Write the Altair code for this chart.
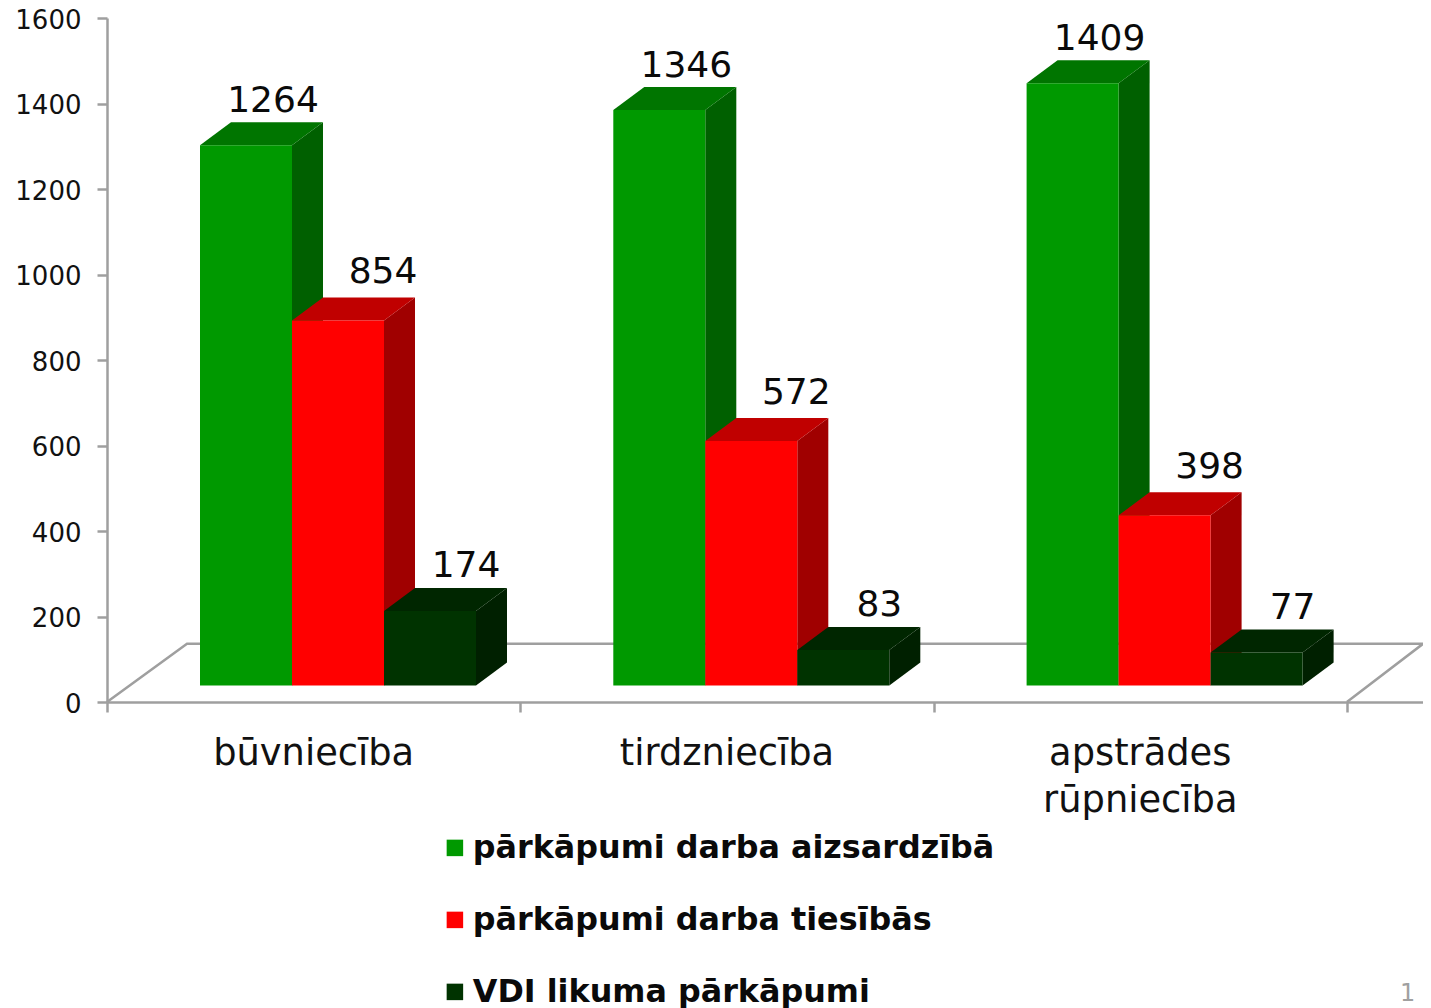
import altair as alt
import pandas as pd

categories = ["būvniecība", "tirdzniecība", "apstrādes\nrūpniecība"]
series = ["pārkāpumi darba aizsardzībā", "pārkāpumi darba tiesībās", "VDI likuma pārkāpumi"]
s_green = [1264, 1346, 1409]
s_red = [854, 572, 398]
s_dark = [174, 83, 77]
y_ticks = [0, 200, 400, 600, 800, 1000, 1200, 1400, 1600]

# styling / geometry of the fake 3D, in data units
front = ["#009900", "#ff0000", "#003300"]
topc = ["#007500", "#c00000", "#002600"]
side = ["#006000", "#a00000", "#002000"]
PLOT_W, PLOT_H = 1316, 684
XU = 1 / 413.3
YU = 1600 / PLOT_H
XMAX = PLOT_W * XU
BASE = 16.5 * YU
DX = 31 * XU
DY = 23 * YU
START = 93 * XU
BW = 92 * XU
NUDGE_X = [27 * XU, 45 * XU, 36 * XU]
NUDGE_Y = [10 * YU, 14 * YU, 11 * YU]
GRAY = "#9f9f9f"
FONT = "DejaVu Sans"

xs = alt.Scale(domain=[0, XMAX], nice=False, zero=False)
ys = alt.Scale(domain=[0, 1600], nice=False, zero=False)
x_axis = alt.Axis(values=[0, 1, 2, 3], labels=False, grid=False, tickSize=10, tickWidth=2.5,
                  tickColor=GRAY, domainColor=GRAY, domainWidth=2.5, title=None)
y_axis = alt.Axis(values=y_ticks, format="d", grid=False, tickSize=10, tickWidth=2.5, tickColor=GRAY,
                  domainColor=GRAY, domainWidth=2.5, labelFontSize=26, labelFont=FONT,
                  labelColor="#111111", labelPadding=16, labelOffset=2, title=None)
X = lambda f="x": alt.X(f"{f}:Q", scale=xs, axis=x_axis)
Y = lambda f="y": alt.Y(f"{f}:Q", scale=ys, axis=y_axis)

floor = pd.DataFrame([
    {"x": 0, "y": 0, "o": 0},
    {"x": 80 * XU, "y": 136, "o": 1},
    {"x": XMAX, "y": 136, "o": 2},
    {"x": 3.0, "y": 0, "o": 3},
])
floor_line = alt.Chart(floor).mark_line(color=GRAY, strokeWidth=2.5, clip=False).encode(
    x=X(), y=Y(), order="o:Q")

layers = [floor_line]
color_scale = alt.Scale(domain=series, range=front)
for si, vals in enumerate([s_green, s_red, s_dark]):
    side_rows, top_rows, front_rows, label_rows = [], [], [], []
    for ci, v in enumerate(vals):
        x0 = ci + START + si * BW
        x1 = x0 + BW
        side_rows += [
            {"cat": ci, "x": x1, "y": BASE + v, "y2": BASE},
            {"cat": ci, "x": x1 + DX, "y": BASE + v + DY, "y2": BASE + DY},
        ]
        top_rows += [
            {"cat": ci, "x": x0, "x2": x1, "y": BASE + v},
            {"cat": ci, "x": x0 + DX, "x2": x1 + DX, "y": BASE + v + DY},
        ]
        front_rows.append({"series": series[si], "x": x0, "x2": x1, "y": BASE + v, "y2": BASE})
        label_rows.append({"x": (x0 + x1) / 2 + NUDGE_X[si], "y": BASE + v + DY + NUDGE_Y[si], "t": str(v)})
    layers.append(alt.Chart(pd.DataFrame(side_rows)).mark_area(orient="vertical", color=side[si]).encode(
        x=X(), y=Y(), y2="y2:Q", detail="cat:N"))
    layers.append(alt.Chart(pd.DataFrame(top_rows)).mark_area(orient="horizontal", color=topc[si]).encode(
        x=X(), x2="x2:Q", y=Y(), detail="cat:N"))
    layers.append(alt.Chart(pd.DataFrame(front_rows)).mark_rect().encode(
        x=X(), x2="x2:Q", y=Y(), y2="y2:Q",
        color=alt.Color("series:N", scale=color_scale, legend=alt.Legend(
            orient="none", legendX=332, legendY=814, title=None, symbolType="square",
            symbolSize=272, symbolStrokeWidth=0, labelFontSize=31.8, labelFont=FONT, labelFontWeight="bold",
            labelColor="#0a0a0a", rowPadding=39, labelOffset=2, labelLimit=800, padding=0,
            symbolOpacity=1, direction="vertical"))))
    layers.append(alt.Chart(pd.DataFrame(label_rows)).mark_text(
        fontSize=36, font=FONT, color="#0a0a0a", baseline="alphabetic", align="center").encode(
        x=X(), y=Y(), text="t:N"))

cat_df = pd.DataFrame({"x": [0.5, 1.5, 2.5], "y": [-148.0] * 3, "t": categories})
layers.append(alt.Chart(cat_df).mark_text(
    fontSize=36.8, font=FONT, color="#111111", baseline="alphabetic", align="center",
    lineBreak="\n", lineHeight=47).encode(x=X(), y=Y(), text="t:N"))
# slide number in the corner
layers.append(alt.Chart(pd.DataFrame({"x": [3.147], "y": [-700.0], "t": ["1"]})).mark_text(
    fontSize=24, font=FONT, color="#a0a0a0", baseline="alphabetic", align="center").encode(
    x=X(), y=Y(), text="t:N"))

chart = alt.layer(*layers).properties(
    width=PLOT_W, height=PLOT_H,
    autosize=alt.AutoSizeParams(type="none"),
    padding={"left": 99, "top": 10, "right": 0, "bottom": 306},
).configure_view(stroke=None)

chart.save("out.html", embed_options={"renderer": "svg", "actions": False})
